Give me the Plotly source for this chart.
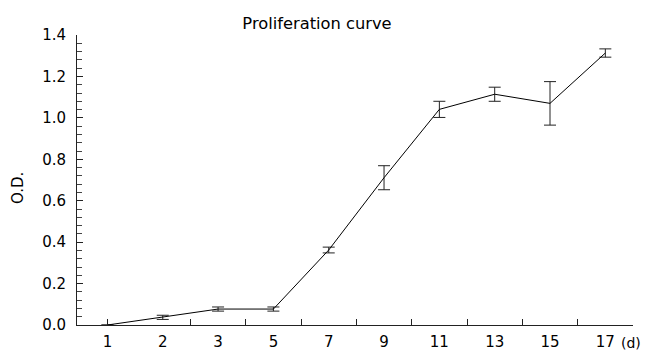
import plotly.graph_objects as go

days = ["1", "2", "3", "5", "7", "9", "11", "13", "15", "17"]
od_mean = [0.0, 0.037, 0.077, 0.077, 0.362, 0.711, 1.041, 1.114, 1.070, 1.313]
od_err = [0.0, 0.010, 0.010, 0.010, 0.014, 0.058, 0.039, 0.034, 0.105, 0.020]
y_ticks = [0.0, 0.2, 0.4, 0.6, 0.8, 1.0, 1.2, 1.4]
x_boundary_ticks = [0, 1.5, 2.5, 3.5, 4.5, 5.5, 6.5, 7.5, 8.5, 9.5]

idx = list(range(len(days)))
FONT = "DejaVu Sans"

# page body has an 8px margin; figure is sized so that it fits the window
W, H = 641, 349

fig = go.Figure()
fig.add_trace(go.Scatter(
    x=idx, y=od_mean, mode="lines",
    line=dict(color="black", width=1),
    error_y=dict(type="data", array=od_err, visible=True,
                 color="#222", thickness=1, width=6),
    showlegend=False, hoverinfo="skip",
))

xr = [-0.55, 9.5]
fig.update_layout(
    width=W, height=H,
    margin=dict(l=69, r=16, t=27, b=32, autoexpand=False),
    paper_bgcolor="white", plot_bgcolor="white",
    font=dict(family=FONT, size=15, color="black"),
    title=dict(text="Proliferation curve", x=309/W, xanchor="center",
               y=1 - 15/H, yanchor="middle",
               font=dict(family=FONT, size=16.3, color="black")),
    xaxis=dict(range=xr, tickmode="array", tickvals=idx, ticktext=days,
               ticks="", showline=True, linecolor="#222", linewidth=1,
               showgrid=False, zeroline=False, ticklabelstandoff=3,
               automargin=False, tickfont=dict(family=FONT, size=15)),
    xaxis2=dict(range=xr, overlaying="x", anchor="y", side="bottom",
                tickmode="array", tickvals=x_boundary_ticks,
                showticklabels=False, ticks="inside", ticklen=6,
                tickcolor="#222", tickwidth=1, automargin=False,
                showline=False, showgrid=False, zeroline=False),
    yaxis=dict(range=[0, 1.4], tickmode="array", tickvals=y_ticks,
               tickformat=".1f", ticks="inside", ticklen=6, tickcolor="#222",
               showline=True, linecolor="#222", linewidth=1,
               showgrid=False, zeroline=False, ticklabelstandoff=7,
               automargin=False, tickfont=dict(family=FONT, size=15),
               minor=dict(dtick=0.04, tick0=0, ticks="inside", ticklen=5,
                          tickcolor="#444", showgrid=False)),
)
# invisible trace to make xaxis2 active
fig.add_trace(go.Scatter(x=[xr[0]], y=[None], xaxis="x2", yaxis="y",
                         showlegend=False, hoverinfo="skip", mode="lines"))

fig.add_annotation(text="O.D.", xref="paper", yref="paper",
                   x=(18 - 77) / 556, y=(325 - 188) / 290, textangle=-90,
                   showarrow=False, xanchor="center", yanchor="middle",
                   font=dict(family=FONT, size=15, color="black"))
fig.add_annotation(text="(d)", xref="paper", yref="paper",
                   x=(619 - 77) / 556, y=-(343 - 325) / 290,
                   showarrow=False, xanchor="left", yanchor="middle",
                   font=dict(family=FONT, size=14, color="black"))

fig.write_html("out.html")
